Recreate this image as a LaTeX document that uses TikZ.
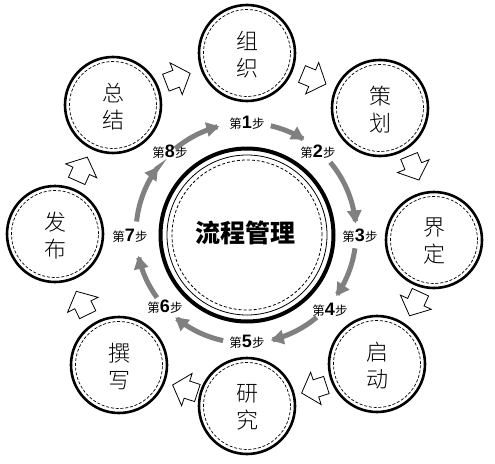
\documentclass[tikz,border=0pt]{standalone}
\usepackage{fontspec}
\setmainfont{Liberation Sans}
\newfontfamily\cjk{Noto Sans CJK SC}
\newfontfamily\cjklight{Noto Sans CJK SC}[UprightFont={* Light}]
\usetikzlibrary{arrows.meta}
\definecolor{arrowgray}{HTML}{808080}
\newcommand\stepno[1]{第{\rmfamily\bfseries\fontsize{18}{18}\selectfont #1}步}
\begin{document}
\begin{tikzpicture}[x=1pt,y=-1pt,
  outerc/.style={circle, draw, line width=2.6pt, minimum size=96pt, inner sep=0pt},
  innerd/.style={circle, draw, line width=0.7pt, dash pattern=on 3pt off 1.8pt, minimum size=87pt, inner sep=0pt},
  lbl/.style={font=\cjklight\fontsize{22}{27}\selectfont, align=center, inner sep=0pt},
  steplbl/.style={inner sep=0pt, font=\cjk\fontsize{12.5}{13}\selectfont},
  grayarrow/.style={draw=arrowgray, line width=5pt, -{Triangle[length=13pt,width=14pt]}},
  harrow/.pic={\draw[line width=0.8pt, fill=white, line join=miter] (-13,-9) -- (-2,-9) -- (-2,-17) -- (13,0) -- (-2,17) -- (-2,9) -- (-13,9) -- cycle;}
]
\useasboundingbox[fill=white] (0,0) rectangle (495,463);

% central circle
\node[circle, draw, line width=4pt, minimum size=173pt, inner sep=0pt] (center) at (247,235) {};
\node[circle, draw, line width=0.8pt, minimum size=160pt, inner sep=0pt] (centerthin) at (247,235) {};
\node[circle, draw, line width=0.8pt, dash pattern=on 3pt off 2pt, minimum size=150pt, inner sep=0pt] (centerdash) at (247,235) {};
\node[font=\cjk\bfseries\fontsize{25}{25}\selectfont, inner sep=0pt] (title) at (245,233) {流程管理};

% outer circles
\foreach \nm/\x/\y/\a/\b in {zuzhi/247/53/组/织, cehua/380/108/策/划, jieding/434/240/界/定, qidong/377/364/启/动, yanjiu/247/406/研/究, zhuanxie/119/365/撰/写, fabu/55/234/发/布, zongjie/113/105/总/结}{
  \node[outerc] (\nm) at (\x,\y) {};
  \node[innerd] (\nm d) at (\x,\y) {};
  \node[lbl] (\nm t) at (\x,\y+1.5) {\a\\\b};
}

% hollow arrows
\foreach \x/\y/\ang in {314/79/22.5, 414/168/67.8, 415/304/114.7, 314/389/162, 185/389/198, 82/303/244, 82/169/294, 178/78/339}{
  \pic[rotate=-\ang] at (\x,\y) {harrow};
}

% step labels
\node[steplbl] (s1) at (247,123) {\stepno{1}};
\node[steplbl] (s2) at (318,152) {\stepno{2}};
\node[steplbl] (s3) at (360,236) {\stepno{3}};
\node[steplbl] (s4) at (330,310) {\stepno{4}};
\node[steplbl] (s5) at (247,342) {\stepno{5}};
\node[steplbl] (s6) at (165,307) {\stepno{6}};
\node[steplbl] (s7) at (130,236) {\stepno{7}};
\node[steplbl] (s8) at (170,152) {\stepno{8}};

% gray arcs
\foreach \aa/\bb in {-77/-58, -40/-5, 8/35, 50/77, 102/130, 144/168, 186/217, 230/256}{
  \draw[grayarrow] plot[domain=\aa:\bb, samples=25, smooth] ({246+110*cos(\x)},{233+110*sin(\x)});
}
\end{tikzpicture}
\end{document}
